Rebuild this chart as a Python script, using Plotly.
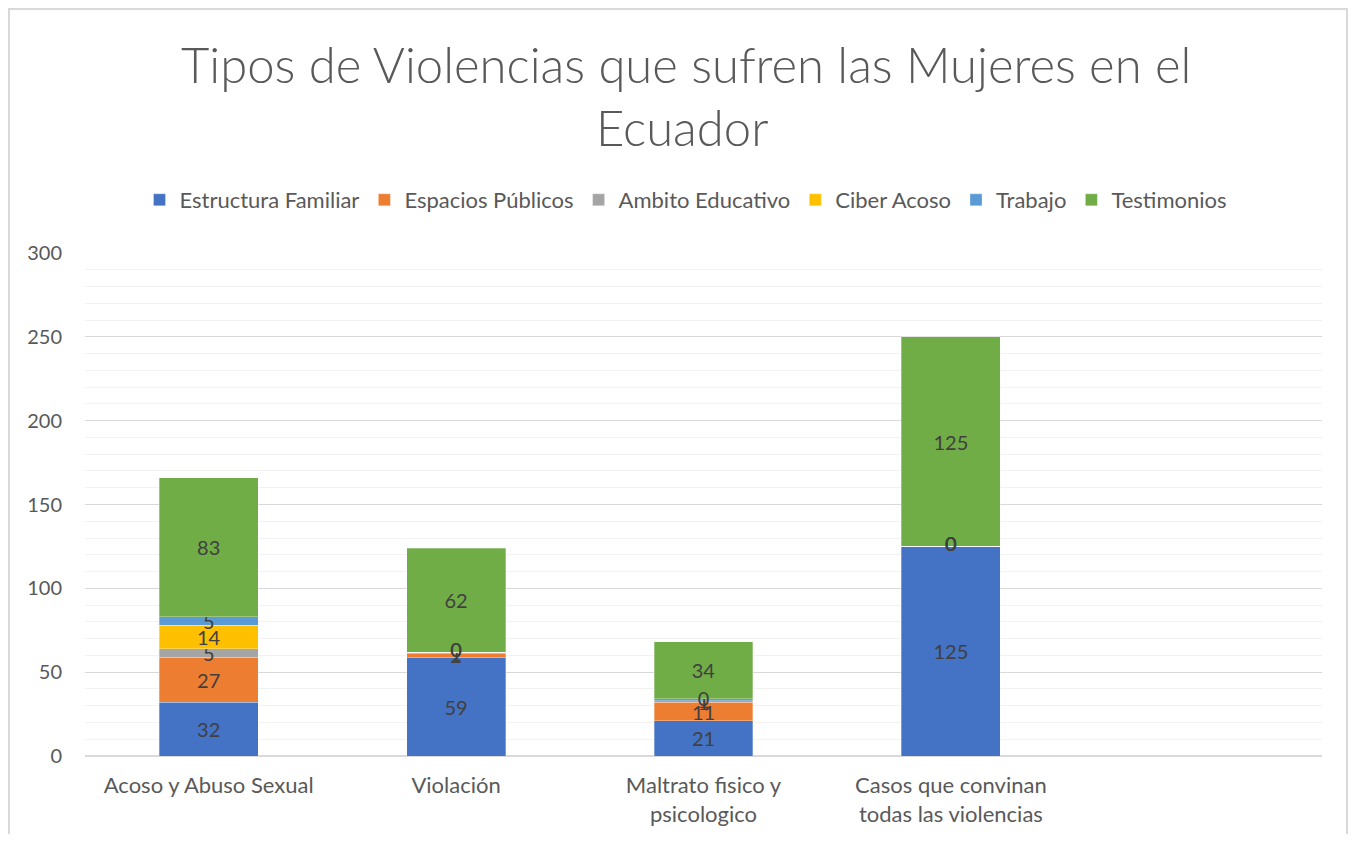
import plotly.graph_objects as go

categories = ["Acoso y Abuso Sexual", "Violación", "Maltrato fisico y<br>psicologico",
              "Casos que convinan<br>todas las violencias"]
series_names = ["Estructura Familiar", "Espacios Públicos", "Ambito Educativo",
                "Ciber Acoso", "Trabajo", "Testimonios"]
estructura_familiar = [32, 59, 21, 125]
espacios_publicos = [27, 2, 11, 0]
ambito_educativo = [5, 1, 1, 0]
ciber_acoso = [14, 0, 0, 0]
trabajo = [5, 0, 1, 0]
testimonios = [83, 62, 34, 125]
colors = ["#4472C4", "#ED7D31", "#A5A5A5", "#FFC000", "#5B9BD5", "#70AD47"]
y_ticks = [0, 50, 100, 150, 200, 250, 300]

series_values = [estructura_familiar, espacios_publicos, ambito_educativo,
                 ciber_acoso, trabajo, testimonios]

FONT = "Lato"
LABEL_FONT = dict(family=FONT, size=20, color="#404040")
x_pos = list(range(len(categories)))

# page is offset by the 8px body margin
OFF = 8
W, H = 1340, 826
L, R, T, B = 85 - OFF, W - (1322 - OFF), 253 - OFF, H - (756 - OFF)
pw, ph = W - L - R, H - T - B

def px_x(px):
    return (px - OFF - L) / pw

def px_y(py):
    return (H - B - (py - OFF)) / ph

fig = go.Figure()
base = [0] * len(categories)
zx, zy = [], []
for name, vals, col in zip(series_names, series_values, colors):
    fig.add_trace(go.Bar(
        x=x_pos, y=vals, name=name, width=0.4,
        marker=dict(color=col, line=dict(width=0.5, color="rgba(255,255,255,0.6)")),
        text=[str(v) for v in vals], textposition="inside",
        insidetextanchor="middle", textangle=0, constraintext="none",
        textfont=LABEL_FONT,
        hoverinfo="name+y",
    ))
    for i, v in enumerate(vals):
        if v == 0:
            zx.append(x_pos[i])
            zy.append(base[i])
        base[i] += v

# labels for zero-height segments (plotly does not draw text on empty bars)
fig.add_trace(go.Scatter(
    x=zx, y=zy, mode="text", text=["0"] * len(zx), textposition="middle center",
    textfont=dict(family=FONT, size=20, color="#404040"), showlegend=False, hoverinfo="skip",
))

fig.update_layout(
    width=W, height=H,
    margin=dict(l=L, r=R, t=T, b=B, autoexpand=False),
    paper_bgcolor="white", plot_bgcolor="white",
    barmode="stack",
    uniformtext=dict(minsize=20, mode="show"),
    font=dict(family=FONT, color="#595959"),
    showlegend=True,
    legend=dict(orientation="h", x=px_x(686), xanchor="center", y=px_y(200), yanchor="middle",
                font=dict(family=FONT, size=22, color="#595959"),
                traceorder="normal", itemwidth=30),
    xaxis=dict(range=[-0.5, 4.5], tickmode="array", tickvals=x_pos, ticktext=categories,
               showgrid=False, zeroline=False, showline=True, linecolor="#d9d9d9",
               ticks="", ticklabelstandoff=10,
               tickfont=dict(family=FONT, size=22, color="#595959"), fixedrange=True),
    yaxis=dict(range=[0, 300], tickmode="array", tickvals=y_ticks,
               showgrid=True, gridcolor="#d9d9d9", gridwidth=1,
               zeroline=True, zerolinecolor="#d9d9d9", showline=False, ticks="",
               ticklabelstandoff=22,
               minor=dict(dtick=10, showgrid=True, gridcolor="#f2f2f2", gridwidth=1),
               tickfont=dict(family=FONT, size=20, color="#595959"), fixedrange=True),
    annotations=[
        dict(text="Tipos de Violencias que sufren las Mujeres en el", x=px_x(686), y=px_y(64),
             xref="paper", yref="paper", xanchor="center", yanchor="middle", showarrow=False,
             font=dict(family=FONT, size=49, color="#595959", weight=300)),
        dict(text="Ecuador", x=px_x(682), y=px_y(127),
             xref="paper", yref="paper", xanchor="center", yanchor="middle", showarrow=False,
             font=dict(family=FONT, size=49, color="#595959", weight=300)),
    ],
    shapes=[dict(type="rect", xref="paper", yref="paper",
                 x0=px_x(9), x1=px_x(1347), y0=px_y(860), y1=px_y(9),
                 line=dict(color="#d9d9d9", width=2), fillcolor="rgba(0,0,0,0)", layer="below")],
)

fig.write_html("out.html")
